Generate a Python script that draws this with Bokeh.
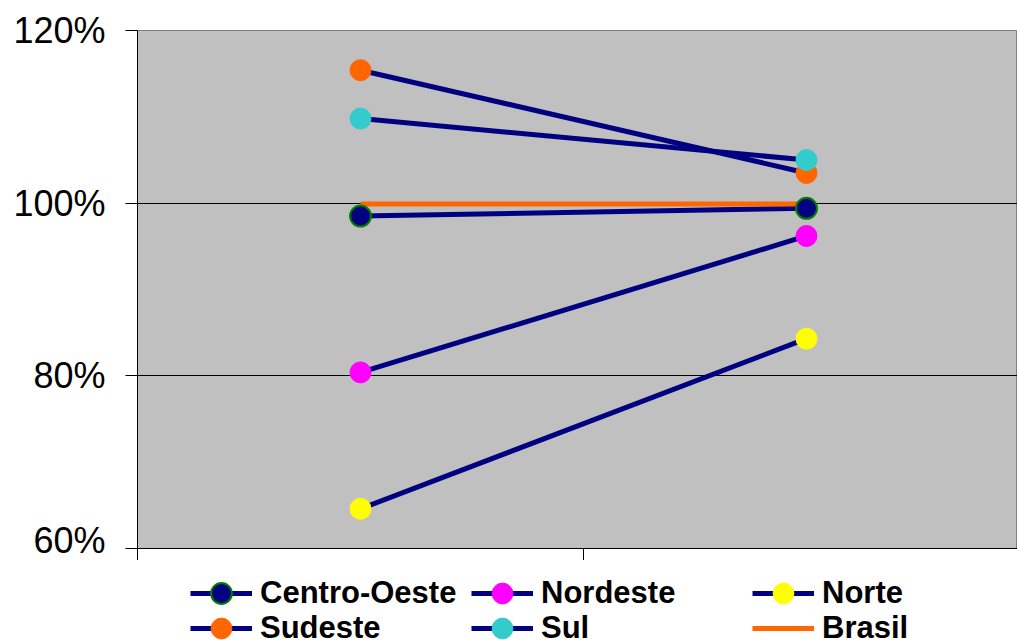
from bokeh.plotting import figure
from bokeh.models import Legend, LegendItem, FixedTicker, PrintfTickFormatter, Range1d
from bokeh.layouts import column
from bokeh.embed import file_html
from bokeh.resources import INLINE

periods = ["1", "2"]
centro_oeste = [98.5, 99.4]
nordeste = [80.4, 96.2]
norte = [64.6, 84.3]
sudeste = [115.4, 103.5]
sul = [109.8, 105.0]
brasil = [99.9, 99.9]
y_ticks = [60, 80, 100, 120]

series = [
    ("Centro-Oeste", centro_oeste, "#000080", "#008000"),
    ("Nordeste", nordeste, "#FF00FF", "#FF00FF"),
    ("Norte", norte, "#FFFF00", "#FFFF00"),
    ("Sudeste", sudeste, "#FF6600", "#FF6600"),
    ("Sul", sul, "#33CCCC", "#33CCCC"),
]

xs = [i + 0.5 for i in range(len(periods))]

W = 1017
p = figure(width=W, height=560, output_backend="svg", toolbar_location=None,
           x_range=Range1d(0, (W - 137) / 446), y_range=Range1d(60, 120),
           min_border_left=137, min_border_top=30, min_border_bottom=12, min_border_right=0)
p.background_fill_color = "#C0C0C0"
p.border_fill_color = "white"
p.outline_line_color = "#808080"
p.outline_line_width = 1

p.xgrid.visible = False
p.ygrid.ticker = FixedTicker(ticks=y_ticks)
p.ygrid.grid_line_color = "black"
p.ygrid.grid_line_width = 1

p.yaxis.ticker = FixedTicker(ticks=y_ticks)
p.yaxis.formatter = PrintfTickFormatter(format="%d%%")
p.yaxis.major_label_text_font = "Liberation Sans"
p.yaxis.major_label_text_font_size = "36px"
p.yaxis.major_label_text_color = "black"
p.yaxis.major_tick_out = 12
p.yaxis.major_tick_in = 0
p.yaxis.minor_tick_line_color = None
p.yaxis.major_label_standoff = 20
p.yaxis.axis_line_color = "black"
p.yaxis.major_tick_line_color = "black"

p.xaxis.ticker = FixedTicker(ticks=[0, 1, 2])
p.xaxis.major_label_overrides = {0: "", 1: "", 2: ""}
p.xaxis.major_tick_out = 12
p.xaxis.major_tick_in = 0
p.xaxis.major_label_standoff = 0
p.xaxis.minor_tick_line_color = None
p.xaxis.axis_line_color = "black"
p.xaxis.major_tick_line_color = "black"

for name, vals, fill, outline in series:
    p.line(xs, vals, line_color="#000080", line_width=5)
p.line(xs, brasil, line_color="#FF6600", line_width=5)
for name, vals, fill, outline in series:
    p.scatter(xs, vals, marker="circle", size=21, fill_color=fill,
              line_color=outline, line_width=2 if name == "Centro-Oeste" else 1)

# legend strip below the chart (its frame is aligned with the chart's frame;
# its y range hides the data so only the legend shows)
lf = figure(width=W, height=80, output_backend="svg", toolbar_location=None,
            x_range=Range1d(0, 1), y_range=Range1d(0, 1),
            min_border_left=0, min_border_right=0, min_border_top=0, min_border_bottom=0)
lf.axis.visible = False
lf.grid.visible = False
lf.outline_line_color = None
lf.background_fill_color = "white"
lf.border_fill_color = "white"

items = []
for name, vals, fill, outline in series:
    lr = lf.line(xs, vals, line_color="#000080", line_width=5)
    mr = lf.scatter(xs, vals, marker="circle", size=21, fill_color=fill,
                    line_color=outline, line_width=2 if name == "Centro-Oeste" else 1)
    items.append(LegendItem(label=name, renderers=[lr, mr]))
br = lf.line(xs, brasil, line_color="#FF6600", line_width=5)
items.append(LegendItem(label="Brasil", renderers=[br]))

common = dict(orientation="horizontal", glyph_width=62, glyph_height=52,
              spacing=0, label_width=211, label_standoff=8, padding=0, margin=0,
              label_text_font="Liberation Sans", label_text_font_style="bold",
              label_text_font_size="31px", label_text_color="black",
              background_fill_alpha=0, border_line_color=None)
legend1 = Legend(items=items[:3], location=(53, 21), **common)
legend2 = Legend(items=items[3:], location=(53, -14), **common)
lf.add_layout(legend1, "center")
lf.add_layout(legend2, "center")

layout = column(p, lf, spacing=0)
open("out.html", "w").write(file_html(layout, INLINE))
